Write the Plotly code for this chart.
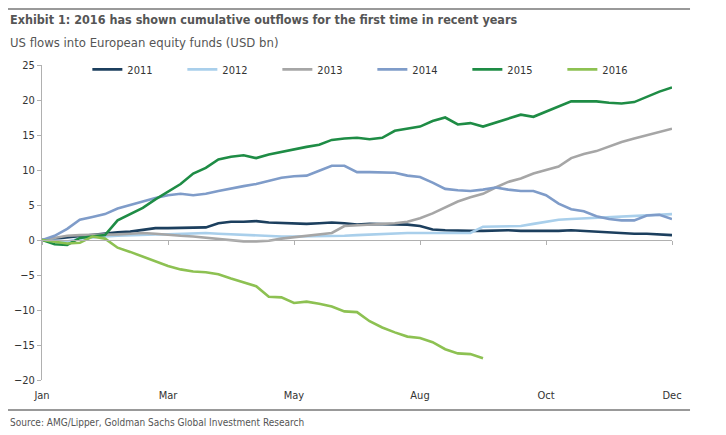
import plotly.graph_objects as go

weeks = list(range(51))
tick_weeks = [0, 10, 20, 30, 40, 50]
tick_labels = ["Jan", "Mar", "May", "Aug", "Oct", "Dec"]

y2011 = [0, 0.2, 0.4, 0.6, 0.8, 1.0, 1.1, 1.2, 1.4, 1.7, 1.7, 1.7, 1.7, 1.8, 2.4, 2.6, 2.6, 2.7, 2.5, 2.4,
         2.4, 2.3, 2.4, 2.5, 2.4, 2.2, 2.3, 2.3, 2.2, 2.2, 2.0, 1.5, 1.4, 1.3, 1.3, 1.3, 1.4, 1.4, 1.3, 1.3,
         1.2, 1.3, 1.4, 1.3, 1.2, 1.0, 1.0, 0.9, 0.9, 0.8, 0.7]
y2012 = [0, -0.1, -0.2, 0.2, 0.4, 0.5, 0.6, 0.7, 0.7, 0.8, 0.8, 0.9, 0.9, 1.0, 0.9, 0.8, 0.7, 0.6, 0.5, 0.5,
         0.5, 0.5, 0.6, 0.6, 0.6, 0.7, 0.8, 0.9, 0.9, 1.0, 1.0, 1.0, 1.0, 1.0, 1.0, 1.9, 1.9, 2.0, 2.0, 2.3,
         2.6, 2.9, 3.0, 3.1, 3.2, 3.3, 3.4, 3.5, 3.6, 3.7, 3.7]
y2013 = [0, 0.3, 0.6, 0.7, 0.7, 0.8, 0.8, 0.9, 1.0, 0.9, 0.7, 0.6, 0.5, 0.3, 0.1, 0.0, -0.2, -0.2, -0.1, 0.2,
         0.4, 0.6, 0.7, 1.0, 2.0, 2.1, 2.1, 2.3, 2.4, 2.6, 3.1, 3.8, 4.6, 5.5, 6.1, 6.6, 7.5, 8.3, 8.8, 9.5,
         10.0, 10.5, 11.7, 12.3, 12.7, 13.4, 14.0, 14.5, 15.0, 15.5, 15.9]
y2014 = [0, 0.6, 1.6, 2.9, 3.3, 3.7, 4.5, 5.0, 5.6, 6.0, 6.4, 6.6, 6.4, 6.6, 7.0, 7.4, 7.7, 8.0, 8.4, 8.9,
         9.1, 9.2, 9.9, 10.6, 10.6, 9.7, 9.7, 9.7, 9.6, 9.2, 9.0, 8.2, 7.3, 7.1, 7.0, 7.2, 7.5, 7.2, 7.0, 7.0,
         6.4, 5.2, 4.4, 4.1, 3.4, 3.0, 2.8, 2.8, 3.5, 3.6, 3.0]
y2015 = [0, -0.6, -0.7, 0.3, 0.5, 0.7, 2.8, 3.7, 4.6, 5.8, 6.9, 8.0, 9.5, 10.3, 11.5, 11.9, 12.1, 11.7, 12.2, 12.6,
         13.0, 13.3, 13.6, 14.3, 14.5, 14.6, 14.4, 14.6, 15.6, 15.9, 16.2, 17.0, 17.5, 16.5, 16.7, 16.2, 16.8, 17.3, 17.9, 17.6,
         18.3, 19.1, 19.8, 19.8, 19.8, 19.6, 19.5, 19.7, 20.5, 21.2, 21.8]
y2016 = [0, -0.2, -0.5, -0.4, 0.5, 0.2, -1.1, -1.7, -2.4, -3.1, -3.7, -4.2, -4.5, -4.6, -4.9, -5.5, -6.0, -6.6,
         -8.1, -8.2, -9.0, -8.8, -9.1, -9.5, -10.2, -10.3, -11.6, -12.5, -13.2, -13.8, -14.0, -14.6, -15.6, -16.2,
         -16.3, -16.9]

series = [
    ("2011", y2011, "#1c3f5e"),
    ("2012", y2012, "#a9cfeb"),
    ("2013", y2013, "#a6a6a6"),
    ("2014", y2014, "#7f9cc9"),
    ("2015", y2015, "#1e8c45"),
    ("2016", y2016, "#8dc152"),
]

FONT = "Liberation Sans Narrow, Arial Narrow, DejaVu Sans Condensed, sans-serif"

fig = go.Figure()
for name, ys, color in series:
    fig.add_trace(go.Scatter(x=weeks[:len(ys)], y=ys, name=name, mode="lines",
                             line=dict(color=color, width=2.6)))

# page body has an 8px default margin, so the figure is sized to the visible window
fig.update_layout(
    width=718, height=427,
    margin=dict(l=34, r=54, t=57, b=55, autoexpand=False),
    paper_bgcolor="white", plot_bgcolor="white",
    font=dict(family=FONT, size=11, color="#333333"),
    showlegend=True,
    legend=dict(orientation="h", x=0.072, y=1.032, xanchor="left", yanchor="top",
                entrywidth=50, entrywidthmode="pixels", font=dict(size=11, color="#333333"),
                bgcolor="rgba(0,0,0,0)", tracegroupgap=0),
    xaxis=dict(range=[0, 50], tickvals=tick_weeks, ticktext=tick_labels, showgrid=False,
               zeroline=False, showline=False, ticks="", ticklabelstandoff=7),
    xaxis2=dict(range=[0, 50], overlaying="x", anchor="free", position=20 / 45, side="bottom",
                tickvals=tick_weeks, showticklabels=False, showgrid=False, zeroline=False,
                showline=True, linecolor="#b0b0b0", linewidth=1, ticks="outside", ticklen=4,
                tickcolor="#b0b0b0"),
    yaxis=dict(range=[-20, 25], dtick=5, showgrid=False, zeroline=False, showline=True,
               linecolor="#b0b0b0", linewidth=1, ticks="outside", ticklen=4, tickcolor="#b0b0b0"),
)

# x axis line crossing at zero needs a trace reference on xaxis2 to be drawn
fig.add_trace(go.Scatter(x=[weeks[0], weeks[-1]], y=[None, None], xaxis="x2", yaxis="y",
                         showlegend=False, hoverinfo="skip", mode="lines"))

fig.add_annotation(text="<b>Exhibit 1: 2016 has shown cumulative outflows for the first time in recent years</b>",
                   xref="paper", yref="paper", x=-0.054, y=1.143, xanchor="left", yanchor="middle",
                   showarrow=False, font=dict(size=12.5, color="#555555", family=FONT))
fig.add_annotation(text="US flows into European equity funds (USD bn)",
                   xref="paper", yref="paper", x=-0.054, y=1.073, xanchor="left", yanchor="middle",
                   showarrow=False, font=dict(size=13, color="#555555", family=FONT))
fig.add_annotation(text="Source: AMG/Lipper, Goldman Sachs Global Investment Research",
                   xref="paper", yref="paper", x=-0.054, y=-0.1365, xanchor="left", yanchor="middle",
                   showarrow=False, font=dict(size=10, color="#555555", family=FONT))
# horizontal rules framing the exhibit (top and above source line)
for yy in (1.178, -0.0955):
    fig.add_shape(type="line", xref="paper", yref="paper", x0=-0.0556, x1=1.0286, y0=yy, y1=yy,
                  line=dict(color="#999999", width=2))

fig.write_html("out.html", config={"displayModeBar": False})
